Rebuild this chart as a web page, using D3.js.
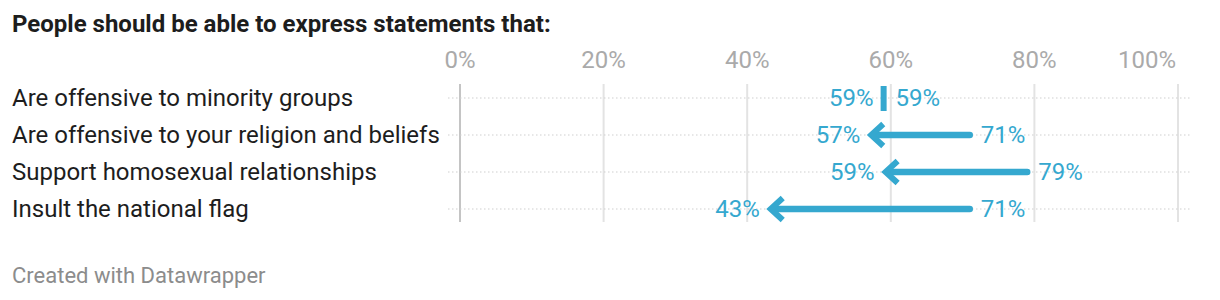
<!DOCTYPE html>
<html>
<head>
<meta charset="utf-8">
<script src="https://cdn.jsdelivr.net/npm/d3@7"></script>
<style>
  body { margin: 0; background: #fff; font-family: Roboto, "Noto Sans", sans-serif; }
</style>
</head>
<body>
<div id="chart"></div>
<script>
const categories = [
  "Are offensive to minority groups",
  "Are offensive to your religion and beliefs",
  "Support homosexual relationships",
  "Insult the national flag"
];
const startValues = [59, 71, 79, 71];
const endValues = [59, 57, 59, 43];
const tickValues = [0, 20, 40, 60, 80, 100];

const data = categories.map((c, i) => ({ label: c, start: startValues[i], end: endValues[i] }));

const width = 1220, height = 300;
const color = "#35a8cf";

const svg = d3.select("#chart")
  .append("svg")
    .attr("width", width)
    .attr("height", height);

// scales
const x = d3.scaleLinear().domain([0, 100]).range([460, 1178]);
const y = d3.scalePoint()
    .domain(categories)
    .range([98, 209]);

// title
svg.append("text")
    .attr("x", 12)
    .attr("y", 32)
    .style("font-size", "24px")
    .style("font-weight", "bold")
    .style("fill", "#1d1d1d")
    .text("People should be able to express statements that:");

// tick labels (last one is right-aligned to its grid line)
const lastTick = tickValues[tickValues.length - 1];
svg.selectAll(".tick-label")
  .data(tickValues)
  .enter().append("text")
    .attr("class", "tick-label")
    .attr("x", d => d === lastTick ? x(d) - 2 : x(d))
    .attr("y", 68)
    .attr("text-anchor", d => d === lastTick ? "end" : "middle")
    .style("font-size", "24px")
    .style("fill", "#aaaaaa")
    .text(d => d + "%");

// vertical grid lines
svg.selectAll(".grid")
  .data(tickValues)
  .enter().append("line")
    .attr("class", "grid")
    .attr("x1", d => x(d))
    .attr("x2", d => x(d))
    .attr("y1", 84)
    .attr("y2", 222)
    .style("stroke", d => d === 0 ? "#c4c4c4" : "#e3e3e3")
    .style("stroke-width", 2);

// row dotted lines
svg.selectAll(".row-line")
  .data(data)
  .enter().append("line")
    .attr("class", "row-line")
    .attr("x1", 448)
    .attr("x2", 1190)
    .attr("y1", d => y(d.label))
    .attr("y2", d => y(d.label))
    .style("stroke", "#cfcfcf")
    .style("stroke-width", 1)
    .style("stroke-dasharray", "1.5,2.5");

// row labels
svg.selectAll(".row-label")
  .data(data)
  .enter().append("text")
    .attr("class", "row-label")
    .attr("x", 12)
    .attr("y", d => y(d.label) + 8)
    .style("font-size", "24px")
    .style("fill", "#1d1d1d")
    .text(d => d.label);

// arrows
const moved = data.filter(d => d.start !== d.end);
const same = data.filter(d => d.start === d.end);

svg.selectAll(".arrow-line")
  .data(moved)
  .enter().append("line")
    .attr("class", "arrow-line")
    .attr("x1", d => x(d.start))
    .attr("x2", d => x(d.end) + 4)
    .attr("y1", d => y(d.label))
    .attr("y2", d => y(d.label))
    .style("stroke", color)
    .style("stroke-width", 6.5)
    .style("stroke-linecap", "round");

svg.selectAll(".arrow-head")
  .data(moved)
  .enter().append("path")
    .attr("class", "arrow-head")
    .attr("d", d => {
      const tx = x(d.end) + 2, ty = y(d.label);
      const dir = d.end < d.start ? 1 : -1;
      return `M${tx + dir * 12},${ty - 11}L${tx},${ty}L${tx + dir * 12},${ty + 11}`;
    })
    .style("fill", "none")
    .style("stroke", color)
    .style("stroke-width", 6)
    .style("stroke-linejoin", "miter");

svg.selectAll(".same-mark")
  .data(same)
  .enter().append("rect")
    .attr("class", "same-mark")
    .attr("x", d => x(d.end) - 3)
    .attr("y", d => y(d.label) - 12)
    .attr("width", 6)
    .attr("height", 25)
    .style("fill", color);

// value labels
svg.selectAll(".start-label")
  .data(data)
  .enter().append("text")
    .attr("class", "start-label")
    .attr("x", d => x(d.start) + (d.start === d.end ? 12 : 11))
    .attr("y", d => y(d.label) + 8)
    .style("font-size", "24px")
    .style("fill", color)
    .text(d => d.start + "%");

svg.selectAll(".end-label")
  .data(data)
  .enter().append("text")
    .attr("class", "end-label")
    .attr("x", d => x(d.end) - (d.start === d.end ? 10 : 9))
    .attr("y", d => y(d.label) + 8)
    .attr("text-anchor", "end")
    .style("font-size", "24px")
    .style("fill", color)
    .text(d => d.end + "%");

// footer
svg.append("text")
    .attr("x", 12)
    .attr("y", 283)
    .style("font-size", "22px")
    .style("fill", "#8c8c8c")
    .text("Created with Datawrapper");
</script>
</body>
</html>
